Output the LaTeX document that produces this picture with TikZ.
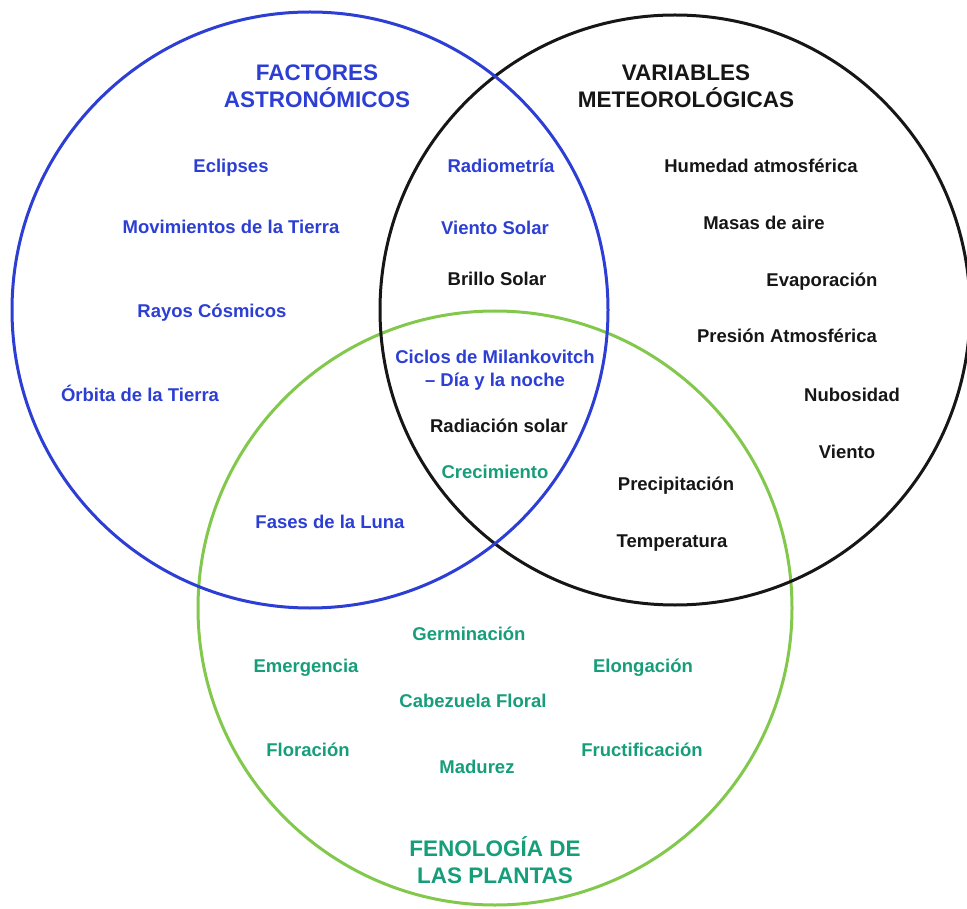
\documentclass[tikz,border=0pt]{standalone}
\usepackage{fontspec}
\setmainfont{Liberation Sans}
\usepackage{tikz}

\definecolor{astroblue}{RGB}{44,62,212}
\definecolor{plantgreen}{RGB}{130,200,76}
\definecolor{plantteal}{RGB}{22,158,122}
\definecolor{meteoblack}{RGB}{22,22,22}

\tikzset{
    ring/.style={line width=3pt},
    item/.style={font=\bfseries\fontsize{18.5}{23}\selectfont, inner sep=0pt, align=center, anchor=base},
    heading/.style={font=\bfseries\fontsize{22.5}{27}\selectfont, inner sep=0pt, align=center, anchor=base},
}

\begin{document}
\begin{tikzpicture}[x=1pt, y=-1pt]

    % Picture frame
    \useasboundingbox (0,0) rectangle (967,909);

    % The three sets
    \draw[ring, plantgreen] (495,608) circle[radius=297pt];
    \draw[ring, meteoblack] (675,310) circle[radius=295pt];
    \draw[ring, astroblue] (310,310) circle[radius=298pt];

    % Headings (base = last line)
    \node[heading, astroblue] (astroTitle) at (317,108) {FACTORES\\ASTRONÓMICOS};
    \node[heading, meteoblack] (meteoTitle) at (686,108) {VARIABLES\\METEOROLÓGICAS};
    \node[heading, plantteal] (plantTitle) at (495,883) {FENOLOGÍA DE\\LAS PLANTAS};

    % Astronomical factors only
    \node[item, astroblue] (eclipses) at (231,173) {Eclipses};
    \node[item, astroblue] (movimientos) at (231,234) {Movimientos de la Tierra};
    \node[item, astroblue] (rayos) at (212,318) {Rayos Cósmicos};
    \node[item, astroblue] (orbita) at (140,402) {Órbita de la Tierra};

    % Astronomical and meteorological
    \node[item, astroblue] (radiometria) at (501,173) {Radiometría};
    \node[item, astroblue] (vientoSolar) at (495,235) {Viento Solar};
    \node[item, meteoblack] (brillo) at (497,286) {Brillo Solar};

    % Centre of the three sets
    \node[item, astroblue] (ciclos) at (495,387) {Ciclos de Milankovitch\\– Día y la noche};
    \node[item, meteoblack] (radiacion) at (499,432) {Radiación solar};
    \node[item, plantteal] (crecimiento) at (495,478) {Crecimiento};

    % Astronomical and plants
    \node[item, astroblue] (fases) at (330,528) {Fases de la Luna};

    % Meteorological variables only
    \node[item, meteoblack] (humedad) at (761,173) {Humedad atmosférica};
    \node[item, meteoblack] (masas) at (764,230) {Masas de aire};
    \node[item, meteoblack] (evaporacion) at (822,287) {Evaporación};
    \node[item, meteoblack] (presion) at (787,343) {Presión Atmosférica};
    \node[item, meteoblack] (nubosidad) at (852,401) {Nubosidad};
    \node[item, meteoblack] (viento) at (847,458) {Viento};

    % Meteorological and plants
    \node[item, meteoblack] (precipitacion) at (676,490) {Precipitación};
    \node[item, meteoblack] (temperatura) at (672,547) {Temperatura};

    % Plant phenology only
    \node[item, plantteal] (germinacion) at (469,640) {Germinación};
    \node[item, plantteal] (emergencia) at (306,672) {Emergencia};
    \node[item, plantteal] (elongacion) at (643,672) {Elongación};
    \node[item, plantteal] (cabezuela) at (473,707) {Cabezuela Floral};
    \node[item, plantteal] (floracion) at (308,756) {Floración};
    \node[item, plantteal] (fructificacion) at (642,756) {Fructificación};
    \node[item, plantteal] (madurez) at (477,773) {Madurez};

\end{tikzpicture}
\end{document}
